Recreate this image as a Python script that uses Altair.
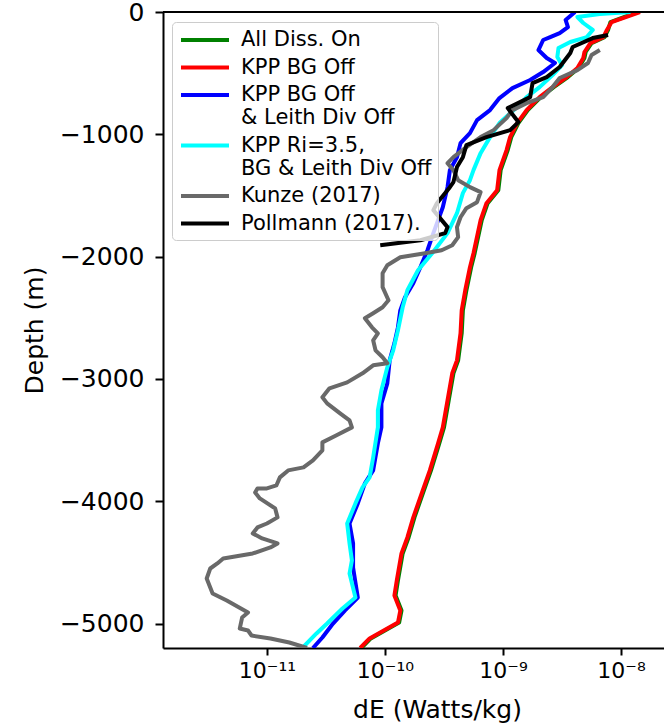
import altair as alt
import pandas as pd

# ---------------- data ----------------
SP = "\u2004"
series_names = [
    "All Diss. On",
    "KPP BG Off",
    "KPP BG Off\n" + SP + "& Leith Div Off",
    "KPP Ri=3.5,\n" + SP + "BG & Leith Div Off",
    "Kunze (2017)",
    "Pollmann (2017).",
]
series_colors = ["#008000", "#ff0000", "#0000ff", "#00ffff", "#696969", "#000000"]

# All Diss. On (green)
green_depth = [0, -82, -147, -205, -254, -327, -376, -458, -532, -614, -696, -802, -908, -1023,
               -1129, -1293, -1457, -1563, -1702, -1972, -2087, -2275, -2439, -2627, -2848, -2954,
               -3175, -3396, -3527, -3748, -3911, -4132, -4296, -4427, -4648, -4771, -4894, -4992,
               -5073, -5122, -5200]
green_logE = [-7.86, -8.09, -8.11, -8.14, -8.25, -8.30, -8.31, -8.36, -8.45, -8.57, -8.68, -8.79,
              -8.87, -8.93, -8.96, -9.02, -9.04, -9.13, -9.18, -9.24, -9.27, -9.31, -9.34, -9.35,
              -9.38, -9.42, -9.46, -9.50, -9.54, -9.61, -9.67, -9.75, -9.80, -9.85, -9.89, -9.91,
              -9.86, -9.88, -10.03, -10.12, -10.20]

# KPP BG Off (red)
red_depth = [0, -82, -147, -205, -254, -327, -376, -458, -532, -614, -696, -802, -908, -1023,
             -1129, -1293, -1457, -1563, -1702, -1972, -2087, -2275, -2439, -2627, -2848, -2954,
             -3175, -3396, -3527, -3748, -3911, -4132, -4296, -4427, -4648, -4771, -4894, -4992,
             -5073, -5122, -5200]
red_logE = [-7.84, -8.08, -8.12, -8.15, -8.26, -8.31, -8.32, -8.37, -8.46, -8.58, -8.69, -8.80,
            -8.88, -8.94, -8.97, -9.03, -9.05, -9.14, -9.19, -9.25, -9.28, -9.32, -9.35, -9.36,
            -9.39, -9.43, -9.47, -9.51, -9.55, -9.62, -9.68, -9.76, -9.81, -9.86, -9.90, -9.92,
            -9.87, -9.89, -10.04, -10.13, -10.21]

# KPP BG Off & Leith Div Off (blue)
blue_depth = [0, -65, -123, -172, -205, -229, -311, -376, -417, -491, -556, -622, -704, -802,
              -884, -990, -1072, -1187, -1293, -1432, -1596, -1808, -1948, -2087, -2218, -2332,
              -2439, -2578, -2709, -2848, -3036, -3200, -3396, -3527, -3748, -3854, -4018, -4182,
              -4345, -4542, -4787, -4894, -5000, -5114, -5200]
blue_logE = [-8.39, -8.47, -8.45, -8.52, -8.60, -8.66, -8.70, -8.63, -8.56, -8.66, -8.77, -8.92,
             -9.03, -9.11, -9.22, -9.28, -9.36, -9.39, -9.45, -9.47, -9.51, -9.59, -9.64, -9.70,
             -9.76, -9.83, -9.87, -9.89, -9.92, -9.96, -9.98, -10.03, -10.03, -10.06, -10.10,
             -10.17, -10.23, -10.30, -10.27, -10.27, -10.23, -10.34, -10.44, -10.53, -10.61]

# KPP Ri=3.5, BG & Leith Div Off (cyan)
cyan_depth = [0, -16, -41, -90, -147, -205, -245, -295, -368, -434, -516, -614, -696, -777,
              -908, -1023, -1154, -1293, -1375, -1481, -1645, -1808, -1972, -2111, -2275, -2414,
              -2602, -2766, -2905, -3093, -3257, -3396, -3642, -3805, -3887, -4018, -4182, -4345,
              -4484, -4591, -4787, -4877, -5000, -5081, -5200]
cyan_logE = [-7.92, -8.18, -8.37, -8.32, -8.24, -8.29, -8.43, -8.53, -8.54, -8.50, -8.58, -8.69,
             -8.80, -8.88, -9.03, -9.11, -9.19, -9.25, -9.28, -9.34, -9.39, -9.47, -9.60, -9.72,
             -9.81, -9.85, -9.89, -9.93, -9.98, -10.03, -10.06, -10.06, -10.10, -10.13, -10.19,
             -10.25, -10.32, -10.30, -10.28, -10.30, -10.25, -10.36, -10.49, -10.58, -10.70]

# Kunze (2017) (gray)
gray_depth = [-311, -352, -417, -475, -540, -614, -696, -745, -802, -867, -966, -1023, -1105,
              -1187, -1236, -1293, -1375, -1432, -1473, -1555, -1604, -1678, -1759, -1841, -1907,
              -1948, -1972, -2005, -2070, -2136, -2250, -2357, -2414, -2463, -2504, -2578, -2627,
              -2684, -2766, -2823, -2872, -2889, -2954, -3028, -3077, -3150, -3200, -3281, -3339,
              -3396, -3461, -3519, -3584, -3666, -3723, -3748, -3805, -3871, -3895, -3895, -3928,
              -3977, -4059, -4132, -4182, -4214, -4263, -4304, -4345, -4378, -4427, -4468, -4509,
              -4550, -4632, -4705, -4754, -4812, -4910, -4951, -5041, -5057, -5098, -5122, -5155,
              -5200]
gray_logE = [-8.18, -8.25, -8.28, -8.37, -8.52, -8.58, -8.66, -8.80, -8.92, -8.97, -9.08, -9.19,
             -9.31, -9.42, -9.47, -9.42, -9.38, -9.28, -9.19, -9.22, -9.31, -9.36, -9.39, -9.38,
             -9.43, -9.52, -9.66, -9.87, -9.98, -10.02, -10.02, -9.97, -10.02, -10.10, -10.17,
             -10.11, -10.06, -10.10, -10.08, -10.02, -9.98, -10.10, -10.19, -10.32, -10.47,
             -10.53, -10.49, -10.38, -10.30, -10.28, -10.41, -10.53, -10.53, -10.61, -10.69,
             -10.82, -10.89, -10.92, -11.00, -11.08, -11.10, -11.06, -10.93, -10.91, -11.00,
             -11.08, -11.12, -11.04, -10.91, -10.97, -11.12, -11.37, -11.42, -11.48, -11.51,
             -11.48, -11.46, -11.34, -11.16, -11.21, -11.23, -11.16, -11.13, -10.97, -10.81,
             -10.66]

# Pollmann (2017) (black)
black_depth = [-188, -213, -286, -335, -450, -532, -581, -696, -786, -900, -966, -1023, -1088,
               -1187, -1268, -1391, -1432, -1563, -1620, -1759, -1808, -1866, -1907]
black_logE = [-8.11, -8.24, -8.41, -8.43, -8.52, -8.63, -8.75, -8.77, -8.96, -8.87, -8.94, -9.14,
              -9.31, -9.34, -9.39, -9.42, -9.45, -9.56, -9.59, -9.47, -9.49, -9.70, -10.04]

x_ticks = [1e-11, 1e-10, 1e-9, 1e-8]
y_ticks = [0, -1000, -2000, -3000, -4000, -5000]

# ---------------- build table ----------------
profiles = [
    (green_depth, green_logE),
    (red_depth, red_logE),
    (blue_depth, blue_logE),
    (cyan_depth, cyan_logE),
    (gray_depth, gray_logE),
    (black_depth, black_logE),
]
frames = []
for name, (d, le) in zip(series_names, profiles):
    frames.append(pd.DataFrame({
        "series": name,
        "depth": d,
        "dE": [10.0 ** v for v in le],
        "idx": range(len(d)),
    }))
data = pd.concat(frames, ignore_index=True)

FONT = "DejaVu Sans"

x_enc = alt.X(
    "dE:Q",
    scale=alt.Scale(type="log", domain=[1.318e-12, 2.31e-8], nice=False),
    axis=alt.Axis(
        values=x_ticks,
        labelExpr=("datum.value < 5e-11 ? '10⁻¹¹' : datum.value < 5e-10 ? '10⁻¹⁰' : "
                   "datum.value < 5e-9 ? '10⁻⁹' : '10⁻⁸'"),
        title="dE (Watts/kg)",
        grid=False,
        tickSize=7, tickWidth=2, tickColor="black",
        domainWidth=2, domainColor="black",
        labelFont=FONT, labelFontSize=22, labelColor="black", labelPadding=5,
        labelFlush=False, labelOverlap=False,
        titleFont=FONT, titleFontSize=25, titleFontWeight="normal", titleColor="black",
        titlePadding=16, titleX=274,
    ),
)
y_enc = alt.Y(
    "depth:Q",
    scale=alt.Scale(domain=[-5200, 0], nice=False, zero=False),
    axis=alt.Axis(
        values=y_ticks,
        format="d",
        title="Depth (m)",
        grid=False,
        tickSize=8, tickWidth=2, tickColor="black",
        domainWidth=2, domainColor="black",
        labelFont=FONT, labelFontSize=25, labelColor="black", labelPadding=11,
        labelFlush=False, labelOverlap=False,
        titleFont=FONT, titleFontSize=25, titleFontWeight="normal", titleColor="black",
        titlePadding=12,
    ),
)
color_enc = alt.Color(
    "series:N",
    scale=alt.Scale(domain=series_names, range=series_colors),
    legend=alt.Legend(
        title=None,
        orient="none",
        legendX=9,
        legendY=10,
        labelExpr="split(datum.label, '\\n')",
        labelFont=FONT,
        labelFontSize=21,
        labelColor="black",
        labelLimit=400,
        symbolType="M-2.4,0H2.4",
        symbolSize=400,
        symbolStrokeWidth=4,
        symbolOffset=15,
        labelOffset=24,
        padding=6,
        rowPadding=5.5,
        strokeColor="#cccccc",
        fillColor="rgba(255,255,255,0.8)",
        cornerRadius=4,
    ),
)

layers = []
for name in series_names:
    sub = data[data["series"] == name]
    layers.append(
        alt.Chart(sub)
        .mark_line(strokeWidth=4, strokeJoin="round", clip=True)
        .encode(x=x_enc, y=y_enc, color=color_enc, order=alt.Order("idx:Q"))
    )

top_frame = (
    alt.Chart(pd.DataFrame({"depth": [0]}))
    .mark_rule(color="black", strokeWidth=2)
    .encode(y=y_enc)
)

chart = (
    alt.layer(*layers, top_frame)
    .properties(
        width=501,
        height=636,
        autosize=alt.AutoSizeParams(type="none"),
        padding={"left": 163, "top": 12, "right": 0, "bottom": 80},
    )
    .configure_view(stroke=None)
    .configure(background="white")
)

chart.save("out.html", embed_options={"renderer": "svg", "actions": False})
